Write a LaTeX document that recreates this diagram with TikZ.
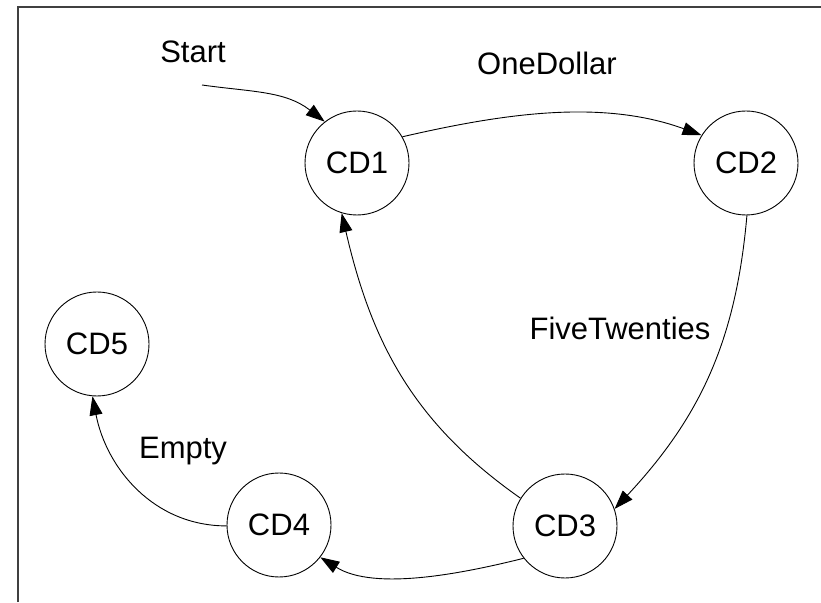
\documentclass[tikz,border=0pt]{standalone}
\usepackage{fontspec}
\setmainfont{Liberation Sans}
\usetikzlibrary{arrows.meta}
\tikzset{
  state/.style={circle, draw, line width=0.9pt, minimum size=104pt, inner sep=0pt,
                font=\fontsize{31}{36}\selectfont},
  ar/.style={-{Triangle[length=19pt, width=13pt]}, line width=0.9pt},
  lbl/.style={font=\fontsize{31}{36}\selectfont, inner sep=0pt},
  frame/.style={line width=1.4pt, black!75},
}

\begin{document}
\begin{tikzpicture}[x=1pt, y=1pt]
    \useasboundingbox (0,0) rectangle (821,602);
    \draw[frame] (18,0) -- (18,595) -- (821,595);
    % states
    \node[state] (cd1) at (357,439) {CD1};
    \node[state] (cd2) at (746,439) {CD2};
    \node[state] (cd3) at (565,76)  {CD3};
    \node[state] (cd4) at (279,77)  {CD4};
    \node[state] (cd5) at (97,258)  {CD5};
    \coordinate (start) at (202,517);
    % labels
    \node[lbl] (lstart) at (193,550) {Start};
    \node[lbl] (lone)   at (547,539) {OneDollar};
    \node[lbl] (lfive)  at (620,274) {FiveTwenties};
    \node[lbl] (lempty) at (183,151) {Empty};
    % transitions
    \draw[ar] (start) to[out=-8, in=142] (cd1.128);
    \draw[ar] (cd1.30) to[out=13, in=160, looseness=0.9] (cd2.148);
    \draw[ar] (cd2.271) to[out=-95, in=47] (cd3.19);
    \draw[ar] (cd3.148) to[out=145, in=-77] (cd1.253);
    \draw[ar] (cd3.218) to[out=194, in=-32, looseness=0.8] (cd4.-38);
    \draw[ar] (cd4.181) to[out=180, in=-79] (cd5.265);
\end{tikzpicture}
\end{document}
